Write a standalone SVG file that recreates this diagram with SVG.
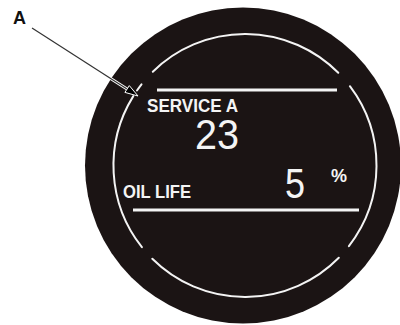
<svg xmlns="http://www.w3.org/2000/svg" width="400" height="325" viewBox="0 0 400 325">
<style>
.arc{fill:none;stroke:#f4f4f4;stroke-width:2;stroke-linecap:round}
.bar{stroke:#f4f4f4;stroke-width:3}
.lbl{font-family:"Liberation Sans",Arial,sans-serif;font-weight:bold;fill:#f4f4f4}
.seg{font-family:"Liberation Sans",Arial,sans-serif;font-weight:normal;fill:#f4f4f4}
</style>
<rect width="400" height="325" fill="#ffffff"/>
<g id="display">
<circle cx="243" cy="165.5" r="158" fill="#1b1414"/>
<path class="arc" d="M152.8,71.7 A131.5,131.5 0 0 1 338.3,72.8"/>
<path class="arc" d="M349.9,86.2 A131.5,131.5 0 0 1 348.9,246.1"/>
<path class="arc" d="M338.8,257.7 A131.5,131.5 0 0 1 152.3,258.8"/>
<path class="arc" d="M141.9,247.2 A131.5,131.5 0 0 1 133.3,96.1"/>
<path class="arc" d="M137,90.5 A131.5,131.5 0 0 1 141.5,84.3"/>
<line class="bar" x1="157" y1="90" x2="337" y2="90"/>
<line class="bar" x1="133" y1="210" x2="359" y2="210"/>
</g>
<g id="service">
<text class="lbl" x="147" y="112" font-size="18" textLength="91" lengthAdjust="spacingAndGlyphs">SERVICE A</text>
<text class="seg" x="195" y="149" font-size="42" textLength="44" lengthAdjust="spacingAndGlyphs">23</text>
</g>
<g id="oillife">
<text class="lbl" x="123" y="198" font-size="18" textLength="68" lengthAdjust="spacingAndGlyphs">OIL LIFE</text>
<text class="seg" x="285" y="198" font-size="42" textLength="20" lengthAdjust="spacingAndGlyphs">5</text>
<text class="lbl" x="331" y="182" font-size="18">%</text>
</g>
<g id="label-A">
<text x="13" y="24" font-family="Liberation Sans,Arial,sans-serif" font-weight="bold" font-size="18" fill="#111">A</text>
</g>
<g id="connectors">
<line x1="32" y1="28" x2="127" y2="89" stroke="#ffffff" stroke-width="3"/>
<line x1="32" y1="28" x2="127" y2="89" stroke="#333" stroke-width="1.2"/>
<polygon points="138,96 124.9,92.4 129.3,85.6" fill="#000" stroke="#fff" stroke-width="1"/>
</g>
</svg>
